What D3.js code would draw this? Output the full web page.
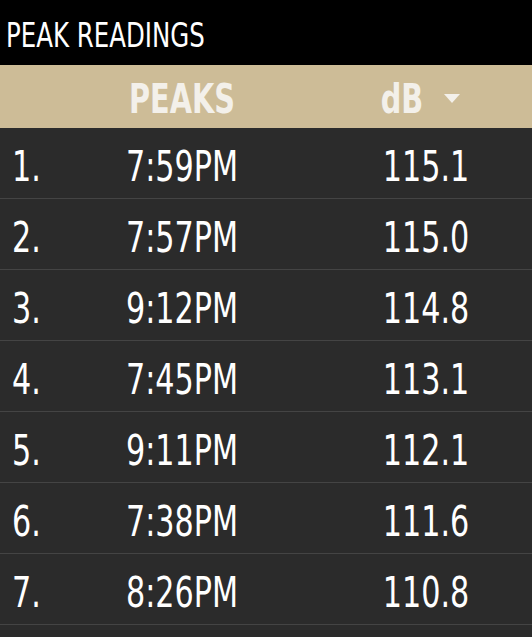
<!DOCTYPE html><html><head><meta charset="utf-8"><script src="https://cdn.jsdelivr.net/npm/d3@7"></script>
<style>body{margin:0;background:#2b2b2b}</style></head><body><script>
const ranks=["1.","2.","3.","4.","5.","6.","7."];
const times=["7:59PM","7:57PM","9:12PM","7:45PM","9:11PM","7:38PM","8:26PM"];
const dbs=["115.1","115.0","114.8","113.1","112.1","111.6","110.8"];
const W=532,H=637,font="'DejaVu Sans',sans-serif",sx=0.72;
const svg=d3.select("body").append("svg").attr("width",W).attr("height",H).style("font-family",font);
function txt(sel,x,y,s,anchor,col,size,bold){
  return sel.append("text").attr("transform",`translate(${x},${y}) scale(${sx},1)`).attr("text-anchor",anchor).attr("fill",col).attr("font-size",size).attr("font-weight",bold?"bold":"normal").text(s);
}
svg.append("rect").attr("width",W).attr("height",65).attr("fill","#000");
txt(svg,6,47,"PEAK READINGS","start","#fff",34);
svg.append("rect").attr("y",65).attr("width",W).attr("height",63).attr("fill","#cdbc97");
txt(svg,182,113,"PEAKS","middle","#f3f0ea",40,true);
txt(svg,402,113,"dB","middle","#f3f0ea",40,true);
svg.append("path").attr("d","M444,94 L460,94 L452,103Z").attr("fill","#f3f0ea");
const y=d3.scaleBand().domain(d3.range(ranks.length)).range([128,128+71*ranks.length]);
const g=svg.selectAll("g.r").data(ranks).join("g").attr("transform",(d,i)=>`translate(0,${y(i)})`);
g.append("rect").attr("width",W).attr("height",y.bandwidth()).attr("fill","#2b2b2b");
g.append("line").attr("x1",0).attr("x2",W).attr("y1",y.bandwidth()-0.5).attr("y2",y.bandwidth()-0.5).attr("stroke","#444");
g.each(function(d,i){const s=d3.select(this);
  txt(s,12,53,d,"start","#fff",42);
  txt(s,182,53,times[i],"middle","#fff",42);
  txt(s,426,53,dbs[i],"middle","#fff",42);
});
</script></body></html>
